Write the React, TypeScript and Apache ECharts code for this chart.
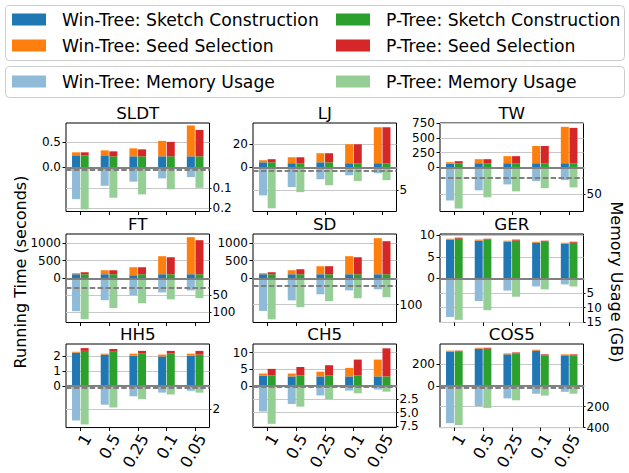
import React, { useEffect, useRef } from 'react';
import * as echarts from 'echarts';

const categories = ['1', '0.5', '0.25', '0.1', '0.05'];
const datasets = ['SLDT', 'LJ', 'TW', 'FT', 'SD', 'GER', 'HH5', 'CH5', 'COS5'];

const winSketch = [
  [0.24, 0.24, 0.22, 0.22, 0.22],
  [4.3, 3.5, 4.3, 3.5, 3.5],
  [63, 69, 69, 69, 69],
  [113, 113, 85, 113, 113],
  [113, 113, 113, 113, 113],
  [9.0, 8.75, 8.5, 8.27, 8.03],
  [2.26, 2.13, 2.06, 2.0, 2.06],
  [3.1, 2.83, 2.83, 2.83, 2.83],
  [320, 347, 294, 329, 285],
];
const winSeed = [
  [0.06, 0.1, 0.16, 0.31, 0.62],
  [1.8, 5.2, 7.9, 16.5, 31.3],
  [24, 69, 121, 295, 623],
  [29, 113, 226, 510, 1047],
  [29, 113, 227, 510, 1019],
  [0.2, 0.25, 0.25, 0.23, 0.24],
  [0.06, 0.06, 0.13, 0.13, 0.13],
  [0.6, 0.87, 1.42, 2.57, 5.07],
  [9, 9, 9, 9, 9],
];
const pSketch = [
  [0.24, 0.22, 0.22, 0.22, 0.22],
  [4.3, 3.5, 4.3, 3.5, 3.5],
  [63, 69, 69, 69, 69],
  [113, 113, 113, 113, 113],
  [113, 113, 113, 113, 113],
  [9.2, 9.0, 8.75, 8.5, 8.27],
  [2.38, 2.32, 2.19, 2.19, 2.13],
  [3.1, 3.1, 3.1, 3.1, 2.83],
  [320, 347, 303, 285, 285],
];
const pSeed = [
  [0.06, 0.1, 0.14, 0.29, 0.53],
  [2.7, 5.2, 7.9, 16.5, 31.3],
  [41, 69, 121, 295, 606],
  [57, 113, 198, 481, 962],
  [57, 142, 227, 481, 934],
  [0.25, 0.2, 0.25, 0.25, 0.23],
  [0.19, 0.19, 0.19, 0.19, 0.25],
  [2.0, 2.56, 3.1, 4.8, 8.47],
  [9, 9, 9, 9, 9],
];
const winMem = [
  [0.155, 0.09, 0.07, 0.054, 0.048],
  [6.1, 4.3, 2.6, 1.74, 1.3],
  [62, 43, 32, 26, 24],
  [97.5, 65, 50, 42, 36],
  [124, 84, 61, 46, 42],
  [13.2, 7.8, 4.2, 2.8, 2.1],
  [2.99, 1.63, 0.91, 0.59, 0.43],
  [4.8, 3.4, 1.8, 0.9, 0.7],
  [358, 194, 121, 76, 58],
];
const pMem = [
  [0.205, 0.148, 0.132, 0.107, 0.1],
  [8.9, 5.4, 3.9, 3.0, 2.8],
  [77, 56, 45, 39, 37.5],
  [121, 88, 74, 62.5, 59],
  [156, 110, 87, 76, 72],
  [14.2, 10.9, 6.3, 3.8, 2.8],
  [3.33, 1.87, 1.15, 0.75, 0.59],
  [7.1, 3.9, 2.5, 1.4, 1.1],
  [376, 212, 139, 94, 76],
];
const baselineMem = [0.005, 0.72, 18.75, 27, 30, 0.3, 0.16, 0.2, 20];

const timeMax = [0.89, 38.5, 758, 1250, 1250, 10.3, 2.85, 12.6, 391];
const memMax = [0.215, 9.6, 82.5, 131, 168, 15.1, 3.6, 7.8, 400];
const timeTicks = [
  [0, 0.5], [0, 20], [0, 250, 500, 750], [0, 500, 1000], [0, 500, 1000],
  [0, 5, 10], [0, 1, 2], [0, 5, 10], [0, 200],
];
const memTicks = [
  [0.1, 0.2], [5], [50], [50, 100], [100], [5, 10, 15], [2], [2.5, 5, 7.5], [200, 400],
];
const timeDecimals = [1, 0, 0, 0, 0, 0, 0, 0, 0];
const memDecimals = [1, 0, 0, 0, 0, 0, 0, 1, 0];

const NAMES = {
  ws: 'Win-Tree: Sketch Construction',
  wd: 'Win-Tree: Seed Selection',
  ps: 'P-Tree: Sketch Construction',
  pd: 'P-Tree: Seed Selection',
  wm: 'Win-Tree: Memory Usage',
  pm: 'P-Tree: Memory Usage',
};
const COLORS = {
  ws: '#1f77b4',
  wd: '#ff7f0e',
  ps: '#2ca02c',
  pd: '#d62728',
  wm: '#8fbbd9',
  pm: '#95cf95',
};

const FONT = 'DejaVu Sans';
const colLeft = [66, 253, 440];
const rowTop = [123, 234, 344];
const GW = 143.5;
const GH = 88.5;

function buildOption() {
  const grid: any[] = [];
  const xAxis: any[] = [];
  const yAxis: any[] = [];
  const series: any[] = [];
  const graphic: any[] = [];

  datasets.forEach((name, i) => {
    const r = Math.floor(i / 3);
    const c = i % 3;
    grid.push({
      left: colLeft[c], top: rowTop[r], width: GW, height: GH,
      show: true, borderColor: '#000', borderWidth: 1, backgroundColor: 'transparent',
    });
    xAxis.push({
      type: 'category', gridIndex: i, data: categories,
      axisLine: { show: false, onZero: false },
      axisTick: { show: true, alignWithLabel: true, length: 3.5, interval: 0, lineStyle: { color: '#000', width: 1 } },
      axisLabel: {
        show: r === 2, interval: 0, rotate: 60, fontSize: 16, color: '#000',
        fontFamily: FONT, margin: 4, verticalAlign: 'top',
      },
      splitLine: { show: false },
    });
    xAxis.push({
      type: 'category', gridIndex: i, data: categories, z: 10,
      axisLine: { show: true, onZero: true, lineStyle: { color: '#808080', width: 2 } },
      axisTick: { show: false }, axisLabel: { show: false }, splitLine: { show: false },
    });
    const td = timeDecimals[i];
    const md = memDecimals[i];
    yAxis.push({
      type: 'value', gridIndex: i, position: 'left',
      min: -timeMax[i], max: timeMax[i],
      axisLine: { show: false },
      axisTick: { show: true, length: 3.5, customValues: timeTicks[i], lineStyle: { color: '#000' } },
      axisLabel: {
        customValues: timeTicks[i], formatter: (v: number) => Number(v).toFixed(td),
        fontSize: 12, color: '#000', fontFamily: FONT, margin: 5,
      },
      splitLine: { show: true, lineStyle: { color: '#c8c8c8', width: 1.2 } },
    });
    yAxis.push({
      type: 'value', gridIndex: i, position: 'right', inverse: true,
      min: -memMax[i], max: memMax[i],
      axisLine: { show: false },
      axisTick: { show: true, length: 2, customValues: memTicks[i], lineStyle: { color: '#000' } },
      axisLabel: {
        customValues: memTicks[i], formatter: (v: number) => Number(v).toFixed(md),
        fontSize: 12, color: '#000', fontFamily: FONT, margin: 3,
      },
      splitLine: { show: true, lineStyle: { color: '#c8c8c8', width: 1.2 } },
    });

    const common = { type: 'bar', barWidth: 8, barGap: '8%', silent: true };
    series.push({ ...common, name: NAMES.ws, xAxisIndex: 2 * i, yAxisIndex: 2 * i, stack: 'w' + i, data: winSketch[i], itemStyle: { color: COLORS.ws } });
    series.push({ ...common, name: NAMES.wd, xAxisIndex: 2 * i, yAxisIndex: 2 * i, stack: 'w' + i, data: winSeed[i], itemStyle: { color: COLORS.wd } });
    series.push({ ...common, name: NAMES.ps, xAxisIndex: 2 * i, yAxisIndex: 2 * i, stack: 'p' + i, data: pSketch[i], itemStyle: { color: COLORS.ps } });
    series.push({ ...common, name: NAMES.pd, xAxisIndex: 2 * i, yAxisIndex: 2 * i, stack: 'p' + i, data: pSeed[i], itemStyle: { color: COLORS.pd } });
    series.push({ ...common, name: NAMES.wm, xAxisIndex: 2 * i + 1, yAxisIndex: 2 * i + 1, data: winMem[i], itemStyle: { color: COLORS.wm } });
    series.push({
      ...common, name: NAMES.pm, xAxisIndex: 2 * i + 1, yAxisIndex: 2 * i + 1, data: pMem[i], itemStyle: { color: COLORS.pm },
      markLine: {
        silent: true, symbol: 'none', label: { show: false },
        lineStyle: { color: '#808080', width: 2, type: [5.5, 2.4] },
        data: [{ yAxis: baselineMem[i] }],
      },
    });

    graphic.push({
      type: 'text', x: colLeft[c] + GW / 2, y: rowTop[r] - 10, silent: true,
      style: { text: name, fontFamily: FONT, fontSize: 16.7, fill: '#000', align: 'center', verticalAlign: 'middle' },
    });
  });

  graphic.push({
    type: 'rect', z: -1, silent: true,
    shape: { x: 5.5, y: 5.5, width: 619, height: 55, r: 4 },
    style: { fill: 'rgba(255,255,255,0.8)', stroke: '#cccccc', lineWidth: 1 },
  });
  graphic.push({
    type: 'rect', z: -1, silent: true,
    shape: { x: 5.5, y: 66.5, width: 619, height: 31, r: 4 },
    style: { fill: 'rgba(255,255,255,0.8)', stroke: '#cccccc', lineWidth: 1 },
  });
  graphic.push({
    type: 'text', x: 20.5, y: 272, rotation: Math.PI / 2, silent: true,
    style: { text: 'Running Time (seconds)', fontFamily: FONT, fontSize: 16, fill: '#000', align: 'center', verticalAlign: 'middle' },
  });
  graphic.push({
    type: 'text', x: 616, y: 282, rotation: -Math.PI / 2, silent: true,
    style: { text: 'Memory Usage (GB)', fontFamily: FONT, fontSize: 16, fill: '#000', align: 'center', verticalAlign: 'middle' },
  });

  const legendBase = {
    orient: 'horizontal', itemWidth: 34, itemHeight: 12,
    icon: 'rect', selectedMode: false, padding: 0,
    textStyle: { fontFamily: FONT, fontSize: 17.2, color: '#000', padding: [0, 0, 0, 11] },
  };
  const legendCells: [string, number, number][] = [
    [NAMES.ws, 12, 11], [NAMES.ps, 336, 11],
    [NAMES.wd, 12, 37], [NAMES.pd, 336, 37],
    [NAMES.wm, 12, 73], [NAMES.pm, 336, 73],
  ];
  const legend = legendCells.map(([n, left, top]) => ({ ...legendBase, left, top, data: [n] }));

  return {
    animation: false,
    backgroundColor: '#ffffff',
    textStyle: { fontFamily: FONT },
    legend, grid, xAxis, yAxis, series, graphic,
  };
}

export default function App() {
  const ref = useRef<HTMLDivElement>(null);
  useEffect(() => {
    document.body.style.margin = '0';
    if (!ref.current) return;
    const chart = echarts.init(ref.current, undefined, { renderer: 'svg' });
    chart.setOption(buildOption() as any);
    return () => chart.dispose();
  }, []);
  return <div ref={ref} style={{ width: 629, height: 473, position: 'fixed', left: 0, top: 0 }} />;
}
